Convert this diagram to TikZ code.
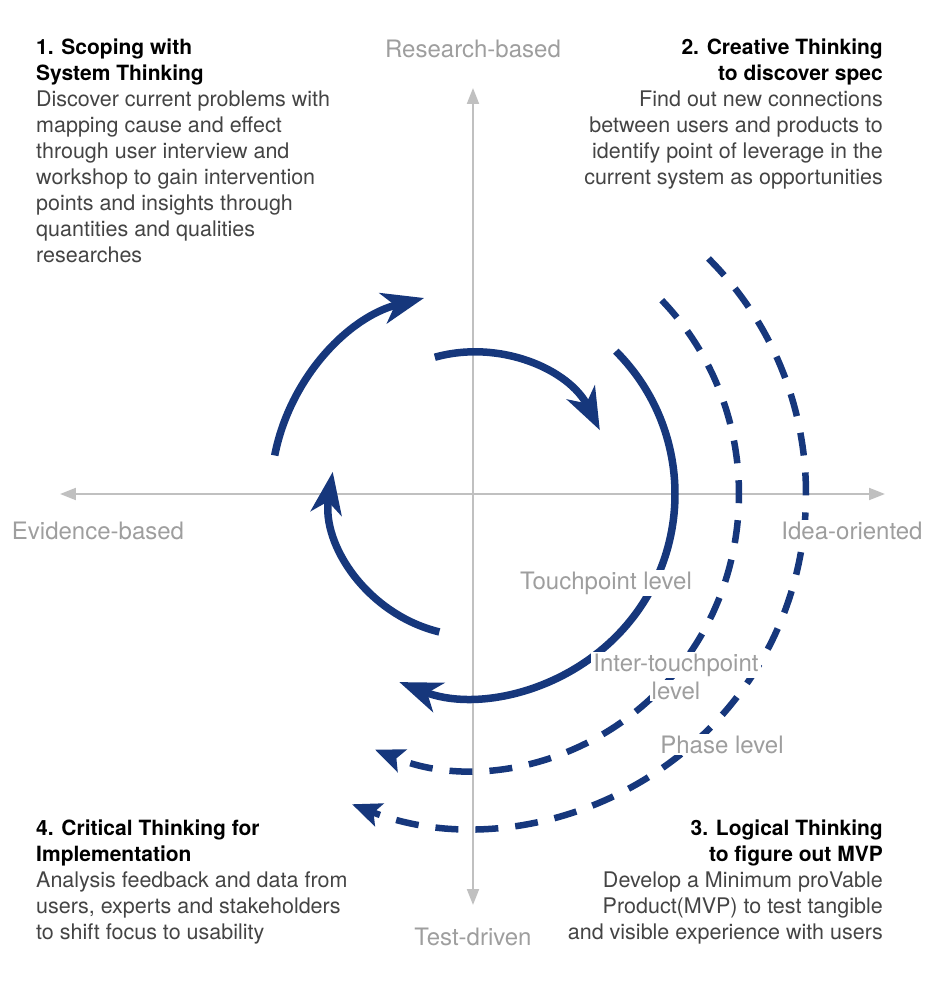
\documentclass[tikz,border=0pt]{standalone}
\usepackage{fontspec}
\setmainfont{TeX Gyre Heros}
\usepackage{xcolor}
\definecolor{loopblue}{RGB}{22,55,124}
\definecolor{axisgray}{RGB}{192,192,192}
\definecolor{labelgray}{RGB}{158,158,158}
\definecolor{bodyink}{RGB}{68,68,68}
\usepackage{tikz}
\usetikzlibrary{arrows.meta, positioning}

\newcommand{\phasetitle}[1]{\textcolor{black}{\fontsize{21}{26}\selectfont\bfseries #1}}

\begin{document}
\begin{tikzpicture}[
        x=1pt, y=1pt,
        axisline/.style={line width=2pt, axisgray, {Triangle[length=16pt, width=12pt]}-{Triangle[length=16pt, width=12pt]}},
        solidarc/.style={line width=7.5pt, loopblue, -{Stealth[length=42pt, width=31pt, inset=12pt]}},
        dasharc/.style={line width=6.5pt, loopblue, dash pattern=on 23pt off 17pt, -{Stealth[length=29pt, width=24pt, inset=6pt]}},
        phasetext/.style={inner sep=0pt, text=bodyink, font=\fontsize{21.5}{26}\selectfont},
        axislabel/.style={anchor=base, inner sep=0pt, text=labelgray, font=\fontsize{24}{28}\selectfont},
        levellabel/.style={anchor=base, inner sep=2pt, fill=white, text=labelgray, font=\fontsize{24}{28}\selectfont}
    ]
        \useasboundingbox (-473,-494) rectangle (473,494);

        % axes
        \coordinate (ytop) at (0,406);
        \coordinate (ybot) at (0,-411);
        \coordinate (xleft) at (-413,0);
        \coordinate (xright) at (412,0);
        \draw[axisline] (ybot) -- (ytop);
        \draw[axisline] (xleft) -- (xright);

        \node[axislabel] (research) at (0,436) {Research-based};
        \node[axislabel] (test) at (0,-451) {Test-driven};
        \node[axislabel] (evidence) at (-375,-45) {Evidence-based};

        % touchpoint loop
        \draw[solidarc] (169:202) arc[start angle=169, end angle=104, radius=202];
        \draw[solidarc] (105.6:142) arc[start angle=105.6, end angle=26.7, radius=142];
        \draw[solidarc] (45:202) arc[start angle=45, end angle=-111.4, radius=202];
        \draw[solidarc] (256.3:142) arc[start angle=256.3, end angle=171, radius=142];

        % inter-touchpoint and phase loops
        \draw[dasharc] (44.8:266 and 275) arc[start angle=44.8, end angle=-111.6, x radius=266, y radius=275];
        \draw[dasharc] (45:333) arc[start angle=45, end angle=-111.3, radius=333];

        \node[levellabel] (idea) at (379,-45) {Idea-oriented};
        \node[levellabel] (touch) at (133,-95) {Touchpoint level};
        \node[levellabel] (inter) at (203,-177) {Inter-touchpoint};
        \node[levellabel] (interlevel) at (203,-205) {level};
        \node[levellabel] (phase) at (249,-259) {Phase level};

        % the four thinking steps
        \node[phasetext, anchor=north west, align=left] (scoping) at (-437,455) {\phasetitle{1. Scoping with}\\\phasetitle{System Thinking}\\Discover current problems with\\mapping cause and effect\\through user interview and\\workshop to gain intervention\\points and insights through\\quantities and qualities\\researches};
        \node[phasetext, anchor=north east, align=right] (creative) at (410,455) {\phasetitle{2. Creative Thinking}\\\phasetitle{to discover spec}\\Find out new connections\\between users and products to\\identify point of leverage in the\\current system as opportunities};
        \node[phasetext, anchor=north east, align=right] (logical) at (410,-326) {\phasetitle{3. Logical Thinking}\\\phasetitle{to figure out MVP}\\Develop a Minimum proVable\\Product(MVP) to test tangible\\and visible experience with users};
        \node[phasetext, anchor=north west, align=left] (critical) at (-437,-326) {\phasetitle{4. Critical Thinking for}\\\phasetitle{Implementation}\\Analysis feedback and data from\\users, experts and stakeholders\\to shift focus to usability};
    \end{tikzpicture}
\end{document}
